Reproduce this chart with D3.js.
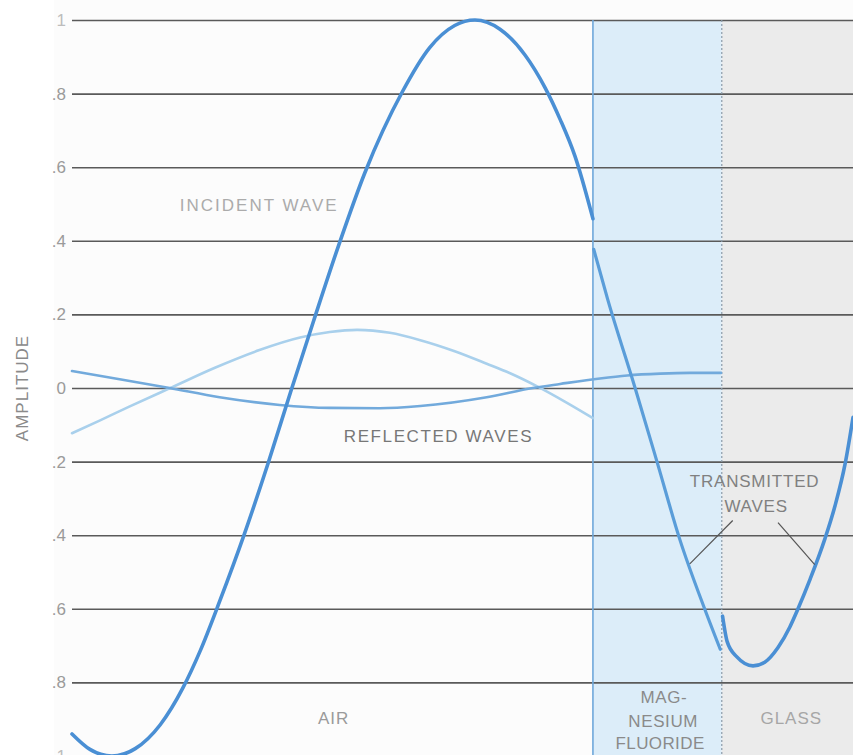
<!DOCTYPE html>
<html><head><meta charset="utf-8">
<script src="https://cdn.jsdelivr.net/npm/d3@7"></script>
<style>body{margin:0;background:#ffffff} svg{display:block}</style>
</head><body>
<svg id="c" width="853" height="755"></svg>
<script>
// ---------- DATA ----------
const yTickValues = [1, 0.8, 0.6, 0.4, 0.2, 0, -0.2, -0.4, -0.6, -0.8, -1];
const yTickLabels = ["1", ".8", ".6", ".4", ".2", "0", ".2", ".4", ".6", ".8", "1"];

// media (position in arbitrary distance units 0..100)
const mediaNames = ["AIR", "MAGNESIUM FLUORIDE", "GLASS"];
const mediaStart = [0, 66.7, 83.2];
const mediaEnd = [66.7, 83.2, 100];

// incident wave in air
const incidentPos = [0, 2.3, 5.1, 8.1, 11.3, 14.2, 16.4, 18.9, 22.1, 25.1, 28.0, 30.9, 34.1, 37.5, 42.3, 45.8, 49.0, 51.6, 54.8, 58.0, 60.6, 62.5, 64.4, 66.7];
const incidentAmp = [-0.94, -0.982, -1.0, -0.98, -0.915, -0.815, -0.715, -0.58, -0.395, -0.205, -0.01, 0.18, 0.385, 0.585, 0.805, 0.925, 0.985, 1.0, 0.975, 0.905, 0.815, 0.73, 0.63, 0.46];

// reflected waves
const reflectedAPos = [0, 3.6, 7.4, 12.9, 18.3, 24.0, 29.2, 33.0, 36.5, 40.7, 44.6, 49.0, 53.1, 56.1, 59.5, 63.1, 66.7];
const reflectedAAmp = [-0.123, -0.088, -0.05, 0.003, 0.055, 0.103, 0.137, 0.152, 0.158, 0.15, 0.13, 0.1, 0.066, 0.04, 0.005, -0.037, -0.082];
const reflectedBPos = [0, 6.1, 12.5, 18.9, 26.6, 33.0, 39.4, 44.6, 53.1, 59.0, 62.5, 67.6, 71.1, 75.3, 79.1, 83.1];
const reflectedBAmp = [0.046, 0.024, 0.0, -0.025, -0.046, -0.054, -0.055, -0.049, -0.025, 0.0, 0.011, 0.026, 0.034, 0.039, 0.041, 0.041];

// transmitted waves
const transMgPos = [66.8, 68.6, 72.1, 74.9, 77.8, 81.0, 83.0];
const transMgAmp = [0.377, 0.24, 0.0, -0.2, -0.41, -0.6, -0.71];
const transGlassPos = [83.3, 83.9, 85.1, 87.2, 88.7, 90.4, 91.9, 92.96, 94.5, 96.4, 97.7, 99.0, 100];
const transGlassAmp = [-0.62, -0.69, -0.73, -0.755, -0.745, -0.705, -0.65, -0.6, -0.52, -0.41, -0.32, -0.205, -0.08];

// ---------- CHART ----------
const svg = d3.select("#c");
const W = 853, H = 755;
const x = d3.scaleLinear().domain([0, 100]).range([72, 853]);
const y = d3.scaleLinear().domain([-1, 1]).range([756, 20]);

svg.append("rect").attr("x", 0).attr("y", 0).attr("width", W).attr("height", H).attr("fill", "#ffffff");
svg.append("rect").attr("x", x(0) - 18).attr("y", 0).attr("width", W).attr("height", H).attr("fill", "#fcfcfc");

const mediaFill = ["none", "#dcedf9", "#ebebeb"];
svg.selectAll("rect.medium").data(mediaNames).join("rect")
  .attr("class", "medium")
  .attr("x", (d, i) => x(mediaStart[i]))
  .attr("width", (d, i) => x(mediaEnd[i]) - x(mediaStart[i]))
  .attr("y", y(1))
  .attr("height", y(-1) - y(1))
  .attr("fill", (d, i) => mediaFill[i]);

// y axis with gridlines
const ax = svg.append("g").attr("transform", `translate(${x(0)},0)`)
  .call(d3.axisLeft(y).tickValues(yTickValues).tickSize(-(x(100) - x(0))).tickPadding(6)
    .tickFormat((d, i) => yTickLabels[i]));
ax.select(".domain").remove();
ax.selectAll(".tick line").attr("stroke", "#5a5a5a").attr("stroke-width", 1.6);
ax.selectAll(".tick text").attr("fill", (d) => Math.abs(d) === 1 ? "#bdbdbd" : "#9a9a9a").attr("font-size", 17)
  .attr("font-family", "'Liberation Sans', Arial, sans-serif");

// boundaries
svg.append("line").attr("x1", x(mediaStart[1])).attr("x2", x(mediaStart[1]))
  .attr("y1", y(1)).attr("y2", y(-1)).attr("stroke", "#6ea7da").attr("stroke-width", 1.6);
svg.append("line").attr("x1", x(mediaStart[2])).attr("x2", x(mediaStart[2]))
  .attr("y1", y(1)).attr("y2", y(-1)).attr("stroke", "#8a9aa8").attr("stroke-width", 1.2)
  .attr("stroke-dasharray", "2,2");

const line = d3.line().x(d => x(d[0])).y(d => y(d[1])).curve(d3.curveMonotoneX);
const zip = (a, b) => a.map((v, i) => [v, b[i]]);

function drawWave(pos, amp, color, width) {
  svg.append("path").datum(zip(pos, amp)).attr("d", line)
    .attr("fill", "none").attr("stroke", color).attr("stroke-width", width)
    .attr("stroke-linecap", "round");
}
drawWave(reflectedAPos, reflectedAAmp, "#a9d0ec", 2.6);
drawWave(reflectedBPos, reflectedBAmp, "#72aadc", 2.6);
drawWave(incidentPos, incidentAmp, "#4a8fd4", 3.6);
drawWave(transMgPos, transMgAmp, "#5a9dd9", 3.2);
drawWave(transGlassPos, transGlassAmp, "#4a8fd4", 3.6);

// pointer lines for transmitted waves
const pointerFrom = [[84.6, -0.36], [90.4, -0.366]];
const pointerTo = [[79.1, -0.478], [95.1, -0.48]];
pointerFrom.forEach((f, i) => {
  svg.append("line").attr("x1", x(f[0])).attr("y1", y(f[1]))
    .attr("x2", x(pointerTo[i][0])).attr("y2", y(pointerTo[i][1]))
    .attr("stroke", "#555").attr("stroke-width", 1.2);
});

// labels
const labelText = ["INCIDENT WAVE", "REFLECTED WAVES", "TRANSMITTED", "WAVES", "AIR", "MAG-", "NESIUM", "FLUORIDE", "GLASS"];
const labelPos = [[13.8, 0.48], [34.8, -0.147], [87.4, -0.27], [87.6, -0.338], [33.5, -0.912], [75.8, -0.857], [75.7, -0.92], [75.3, -0.98], [92.1, -0.912]];
const labelAnchor = ["start", "start", "middle", "middle", "middle", "middle", "middle", "middle", "middle"];
const labelColor = ["#ababab", "#777777", "#808080", "#808080", "#9a9a9a", "#8a8a8a", "#8a8a8a", "#8a8a8a", "#a6a6a6"];
const labelSpacing = [2, 1.6, 0.8, 0.8, 1, 0.6, 0.6, 0.4, 1];
labelText.forEach((t, i) => {
  svg.append("text").attr("x", x(labelPos[i][0])).attr("y", y(labelPos[i][1]))
    .attr("text-anchor", labelAnchor[i]).attr("fill", labelColor[i])
    .attr("font-size", 17).attr("letter-spacing", labelSpacing[i])
    .attr("font-family", "'Liberation Sans', Arial, sans-serif")
    .text(t);
});

svg.append("text").attr("transform", `translate(28,${y(0)}) rotate(-90)`)
  .attr("text-anchor", "middle").attr("fill", "#8a8a8a").attr("font-size", 17)
  .attr("letter-spacing", 1)
  .attr("font-family", "'Liberation Sans', Arial, sans-serif").text("AMPLITUDE");
</script>
</body></html>
